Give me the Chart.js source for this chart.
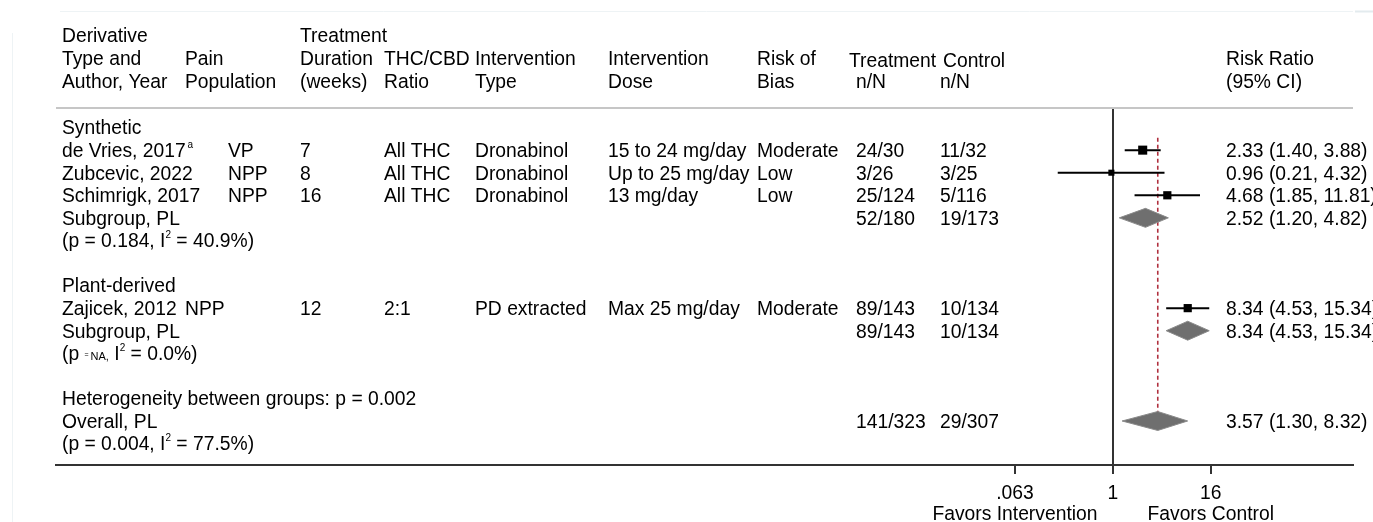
<!DOCTYPE html>
<html>
<head>
<meta charset="utf-8">
<title>Forest plot: risk ratio by cannabinoid derivative</title>
<script src="https://cdn.jsdelivr.net/npm/chart.js@4.4.1/dist/chart.umd.min.js"></script>
<style>
  html, body { margin: 0; padding: 0; background: #fff; }
  #wrap { width: 1373px; height: 522px; position: relative; }
</style>
</head>
<body>
<div id="wrap"><canvas id="chart"></canvas></div>
<script>
// Forest plot, one row per table line (row index = position in the table)

// Individual studies
const studyNames = ['de Vries, 2017', 'Zubcevic, 2022', 'Schimrigk, 2017', 'Zajicek, 2012'];
const studyNotes = ['a', '', '', ''];
const painPopulation = ['VP', 'NPP', 'NPP', 'NPP'];
const durationWeeks = ['7', '8', '16', '12'];
const thcCbdRatio = ['All THC', 'All THC', 'All THC', '2:1'];
const interventionType = ['Dronabinol', 'Dronabinol', 'Dronabinol', 'PD extracted'];
const interventionDose = ['15 to 24 mg/day', 'Up to 25 mg/day', '13 mg/day', 'Max 25 mg/day'];
const riskOfBias = ['Moderate', 'Low', 'Low', 'Moderate'];
const studyTreatment = ['24/30', '3/26', '25/124', '89/143'];
const studyControl = ['11/32', '3/25', '5/116', '10/134'];
const studyRR = [2.33, 0.96, 4.68, 8.34];
const studyLo = [1.40, 0.21, 1.85, 4.53];
const studyHi = [3.88, 4.32, 11.81, 15.34];
const studyRows = [1, 2, 3, 8];

// Subgroup and overall pooled estimates
const groupNames = ['Synthetic', 'Plant-derived'];
const groupRows = [0, 7];
const pooledNames = ['Subgroup, PL', 'Subgroup, PL', 'Overall, PL'];
const pooledP = ['0.184', 'NA', '0.004'];
const pooledI2 = ['40.9', '0.0', '77.5'];
const pooledTreatment = ['52/180', '89/143', '141/323'];
const pooledControl = ['19/173', '10/134', '29/307'];
const pooledRR = [2.52, 8.34, 3.57];
const pooledLo = [1.20, 4.53, 1.30];
const pooledHi = [4.82, 15.34, 8.32];
const pooledRows = [4, 9, 13];
const betweenGroupsP = '0.002';
const betweenGroupsRow = 12;

// Axis
const axisTicks = [0.0625, 1, 16];
const axisTickLabels = ['.063', '1', '16'];
const axisNotes = ['Favors Intervention', '', 'Favors Control'];

const FAMILY = '"Liberation Sans", Arial, Helvetica, sans-serif';
const FS = 19.3;
const FONT = FS + 'px ' + FAMILY;
const SMALL = '10px ' + FAMILY;
const TINY = '7px ' + FAMILY;
const TINY2 = '11px ' + FAMILY;
const CAP_HALF = FS * 0.716 / 2;

const datasets = [];

// confidence interval whiskers
studyRR.forEach((rr, i) => {
  datasets.push({
    type: 'line',
    data: [{ x: studyLo[i], y: studyRows[i] }, { x: studyHi[i], y: studyRows[i] }],
    borderColor: '#000',
    borderWidth: 2,
    pointRadius: 0,
    fill: false,
    order: 2
  });
});

// point estimates (box size ~ weight)
datasets.push({
  type: 'scatter',
  data: studyRR.map((rr, i) => ({ x: rr, y: studyRows[i] })),
  pointStyle: 'rect',
  pointRadius: [6.4, 4.3, 5.8, 5.8],
  pointHoverRadius: [6.4, 4.3, 5.8, 5.8],
  backgroundColor: '#000',
  borderColor: '#000',
  borderWidth: 0,
  order: 1
});

// pooled diamonds
pooledRR.forEach((rr, i) => {
  const r = pooledRows[i];
  datasets.push({
    type: 'line',
    data: [
      { x: pooledLo[i], y: r },
      { x: rr, y: r - 0.42 },
      { x: pooledHi[i], y: r },
      { x: rr, y: r + 0.42 },
      { x: pooledLo[i], y: r }
    ],
    fill: 'shape',
    backgroundColor: '#6f6f6f',
    borderColor: '#8a8a8a',
    borderWidth: 1,
    pointRadius: 0,
    tension: 0,
    order: 1
  });
});

// overall estimate reference line
const overallRR = pooledRR[pooledRR.length - 1];
datasets.push({
  type: 'line',
  data: [{ x: overallRR, y: 0.45 }, { x: overallRR, y: 13.42 }],
  borderColor: '#b0303f',
  borderWidth: 1.6,
  borderDash: [4, 3],
  pointRadius: 0,
  fill: false,
  order: 5
});

function drawParts(ctx, x, y, parts) {
  let cx = x;
  for (const p of parts) {
    ctx.font = p.font || FONT;
    ctx.fillText(p.t, cx, y + (p.dy || 0));
    cx += ctx.measureText(p.t).width + (p.gap || 0);
  }
}

function hetParts(p, i2) {
  const head = p === 'NA'
    ? [{ t: '(p ' }, { t: '=', font: TINY, dy: -3, gap: 2 }, { t: 'NA,', font: TINY2 }, { t: ' I' }]
    : [{ t: '(p = ' + p + ', I' }];
  return head.concat([{ t: '2', font: SMALL, dy: -9.5 }, { t: ' = ' + i2 + '%)' }]);
}

function rrText(rr, lo, hi) {
  return rr.toFixed(2) + ' (' + lo.toFixed(2) + ', ' + hi.toFixed(2) + ')';
}

const tablePlugin = {
  id: 'tableText',
  beforeDraw(chart) {
    const { ctx } = chart;
    ctx.save();
    ctx.strokeStyle = '#eef3f5';
    ctx.lineWidth = 1;
    ctx.beginPath();
    ctx.moveTo(12.5, 33); ctx.lineTo(12.5, 522);
    ctx.moveTo(60, 11.5); ctx.lineTo(1353, 11.5);
    ctx.stroke();
    ctx.strokeStyle = '#e3ebee';
    ctx.lineWidth = 2;
    ctx.beginPath();
    ctx.moveTo(1355, 11.5); ctx.lineTo(1373, 11.5);
    ctx.stroke();
    ctx.restore();
  },
  beforeDatasetsDraw(chart) {
    const { ctx, chartArea } = chart;
    ctx.save();
    ctx.strokeStyle = '#c6c6c6';
    ctx.lineWidth = 2;
    ctx.beginPath();
    ctx.moveTo(chartArea.left, chartArea.top);
    ctx.lineTo(chartArea.right, chartArea.top);
    ctx.stroke();
    ctx.restore();
  },
  afterDraw(chart) {
    const { ctx, scales: { y } } = chart;
    const base = r => y.getPixelForValue(r) + CAP_HALF;
    ctx.save();
    ctx.fillStyle = '#000';
    ctx.textBaseline = 'alphabetic';
    ctx.textAlign = 'left';
    ctx.font = FONT;

    // header
    const h1 = base(-4.10), h2 = base(-3.08), h3 = base(-2.07), h2b = base(-2.97);
    ctx.fillText('Derivative', 62, h1);
    ctx.fillText('Type and', 62, h2);
    ctx.fillText('Author, Year', 62, h3);
    ctx.fillText('Pain', 185, h2);
    ctx.fillText('Population', 185, h3);
    ctx.fillText('Treatment', 300, h1);
    ctx.fillText('Duration', 300, h2);
    ctx.fillText('(weeks)', 300, h3);
    ctx.fillText('THC/CBD', 384, h2);
    ctx.fillText('Ratio', 384, h3);
    ctx.fillText('Intervention', 475, h2);
    ctx.fillText('Type', 475, h3);
    ctx.fillText('Intervention', 608, h2);
    ctx.fillText('Dose', 608, h3);
    ctx.fillText('Risk of', 757, h2);
    ctx.fillText('Bias', 757, h3);
    ctx.fillText('Treatment', 849, h2b);
    ctx.fillText('n/N', 856, h3);
    ctx.fillText('Control', 943, h2b);
    ctx.fillText('n/N', 940, h3);
    ctx.fillText('Risk Ratio', 1226, h2);
    ctx.fillText('(95% CI)', 1226, h3);

    // group titles
    groupNames.forEach((g, i) => ctx.fillText(g, 62, base(groupRows[i])));

    // studies
    const painX = [228, 228, 228, 185];
    studyNames.forEach((name, i) => {
      const by = base(studyRows[i]);
      const parts = [{ t: name, gap: 2 }];
      if (studyNotes[i]) parts.push({ t: studyNotes[i], font: SMALL, dy: -9.5 });
      drawParts(ctx, 62, by, parts);
      ctx.font = FONT;
      ctx.fillText(painPopulation[i], painX[i], by);
      ctx.fillText(durationWeeks[i], 300, by);
      ctx.fillText(thcCbdRatio[i], 384, by);
      ctx.fillText(interventionType[i], 475, by);
      ctx.fillText(interventionDose[i], 608, by);
      ctx.fillText(riskOfBias[i], 757, by);
      ctx.fillText(studyTreatment[i], 856, by);
      ctx.fillText(studyControl[i], 940, by);
      ctx.fillText(rrText(studyRR[i], studyLo[i], studyHi[i]), 1226, by);
    });

    // pooled rows
    pooledNames.forEach((name, i) => {
      const by = base(pooledRows[i]);
      ctx.font = FONT;
      ctx.fillText(name, 62, by);
      ctx.fillText(pooledTreatment[i], 856, by);
      ctx.fillText(pooledControl[i], 940, by);
      ctx.fillText(rrText(pooledRR[i], pooledLo[i], pooledHi[i]), 1226, by);
      drawParts(ctx, 62, base(pooledRows[i] + 1), hetParts(pooledP[i], pooledI2[i]));
    });

    ctx.font = FONT;
    ctx.fillText('Heterogeneity between groups: p = ' + betweenGroupsP, 62, base(betweenGroupsRow));
    ctx.restore();
  }
};

new Chart(document.getElementById('chart'), {
  type: 'scatter',
  data: { datasets },
  options: {
    responsive: true,
    maintainAspectRatio: false,
    animation: false,
    layout: { padding: { left: 56, right: 20, top: 108, bottom: 0 } },
    plugins: {
      legend: { display: false },
      tooltip: { enabled: false }
    },
    scales: {
      x: {
        type: 'logarithmic',
        position: 'bottom',
        // log range chosen so that 1 sits at the plot's null line
        min: 1e-13,
        max: 900,
        afterBuildTicks: s => { s.ticks = axisTicks.map(v => ({ value: v })); },
        afterFit: s => { s.height = 57; },
        ticks: {
          autoSkip: false,
          maxRotation: 0,
          minRotation: 0,
          padding: 9,
          color: '#000',
          font: { family: FAMILY, size: FS, lineHeight: '21px' },
          callback: (v) => {
            const i = axisTicks.indexOf(v);
            if (i < 0) return '';
            return axisNotes[i] ? [axisTickLabels[i], axisNotes[i]] : axisTickLabels[i];
          }
        },
        grid: {
          color: c => (c.tick && c.tick.value === 1) ? '#333' : 'rgba(0,0,0,0)',
          tickColor: '#333',
          lineWidth: 2,
          tickLength: 9,
          drawOnChartArea: true,
          drawTicks: true
        },
        border: { display: true, color: '#333', width: 2 }
      },
      y: {
        type: 'linear',
        reverse: true,
        min: -0.867,
        max: 14.95,
        display: false
      }
    }
  },
  plugins: [tablePlugin]
});
</script>
</body>
</html>
